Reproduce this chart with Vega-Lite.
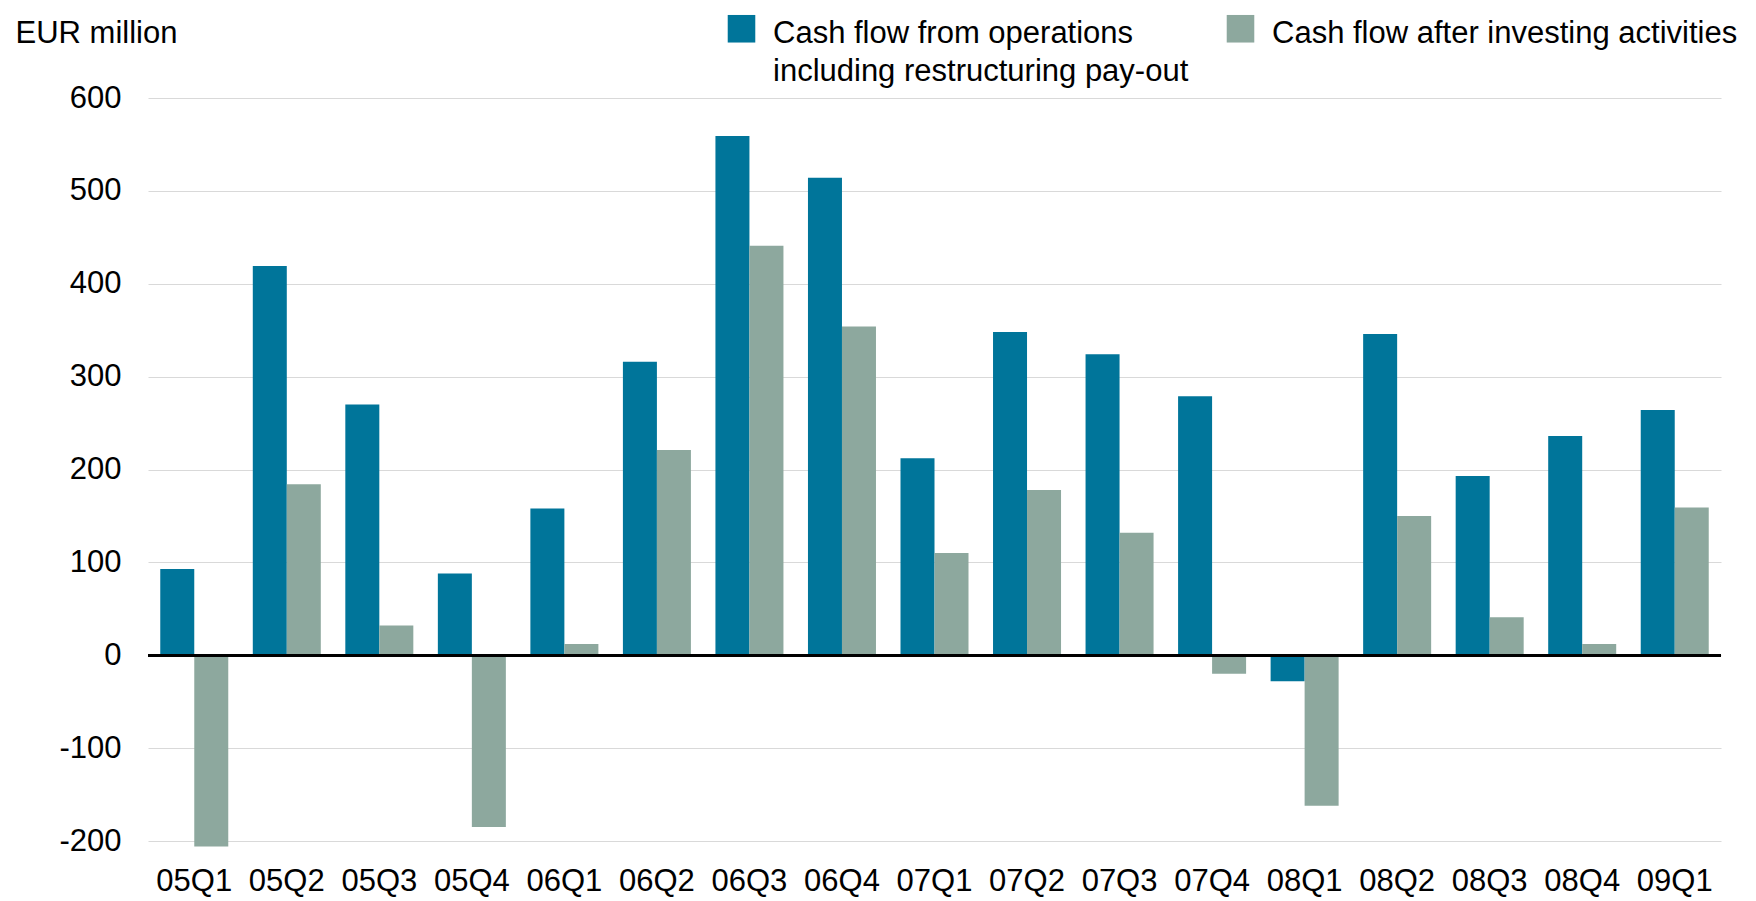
{
  "$schema": "https://vega.github.io/schema/vega-lite/v6.json",
  "width": 1573,
  "height": 743,
  "autosize": {"type": "none"},
  "padding": {"left": 148, "top": 98, "right": 35, "bottom": 60},
  "background": "white",
  "config": {
    "view": {"stroke": null},
    "font": "Liberation Sans",
    "axis": {"labelFont": "Liberation Sans", "titleFont": "Liberation Sans"},
    "legend": {"labelFont": "Liberation Sans"}
  },
  "data": {
    "values": [
      {"quarter": "05Q1", "series": "ops", "value": 93},
      {"quarter": "05Q1", "series": "inv", "value": -206},
      {"quarter": "05Q2", "series": "ops", "value": 419},
      {"quarter": "05Q2", "series": "inv", "value": 184},
      {"quarter": "05Q3", "series": "ops", "value": 270},
      {"quarter": "05Q3", "series": "inv", "value": 32},
      {"quarter": "05Q4", "series": "ops", "value": 88},
      {"quarter": "05Q4", "series": "inv", "value": -185},
      {"quarter": "06Q1", "series": "ops", "value": 158},
      {"quarter": "06Q1", "series": "inv", "value": 12},
      {"quarter": "06Q2", "series": "ops", "value": 316},
      {"quarter": "06Q2", "series": "inv", "value": 221},
      {"quarter": "06Q3", "series": "ops", "value": 559},
      {"quarter": "06Q3", "series": "inv", "value": 441},
      {"quarter": "06Q4", "series": "ops", "value": 514},
      {"quarter": "06Q4", "series": "inv", "value": 354},
      {"quarter": "07Q1", "series": "ops", "value": 212},
      {"quarter": "07Q1", "series": "inv", "value": 110},
      {"quarter": "07Q2", "series": "ops", "value": 348},
      {"quarter": "07Q2", "series": "inv", "value": 178},
      {"quarter": "07Q3", "series": "ops", "value": 324},
      {"quarter": "07Q3", "series": "inv", "value": 132},
      {"quarter": "07Q4", "series": "ops", "value": 279},
      {"quarter": "07Q4", "series": "inv", "value": -20},
      {"quarter": "08Q1", "series": "ops", "value": -28},
      {"quarter": "08Q1", "series": "inv", "value": -162},
      {"quarter": "08Q2", "series": "ops", "value": 346},
      {"quarter": "08Q2", "series": "inv", "value": 150},
      {"quarter": "08Q3", "series": "ops", "value": 193},
      {"quarter": "08Q3", "series": "inv", "value": 41},
      {"quarter": "08Q4", "series": "ops", "value": 236},
      {"quarter": "08Q4", "series": "inv", "value": 12},
      {"quarter": "09Q1", "series": "ops", "value": 264},
      {"quarter": "09Q1", "series": "inv", "value": 159}
    ]
  },
  "layer": [
    {
      "mark": {"type": "bar"},
      "encoding": {
        "x": {
          "field": "quarter",
          "type": "nominal",
          "sort": null,
          "scale": {"paddingInner": 0.265, "paddingOuter": 0.1325},
          "axis": {
            "title": null,
            "orient": "bottom",
            "domain": false,
            "ticks": false,
            "labelAngle": 0,
            "labelFontSize": 31,
            "labelColor": "black",
            "labelPadding": 25,
            "labelBaseline": "top"
          }
        },
        "xOffset": {"field": "series", "type": "nominal", "sort": ["ops", "inv"]},
        "y": {
          "field": "value",
          "type": "quantitative",
          "scale": {"domain": [-200, 600], "nice": false, "zero": false},
          "axis": {
            "values": [-200, -100, 0, 100, 200, 300, 400, 500, 600],
            "labelExpr": "'' + datum.value",
            "title": "EUR million",
            "titleAngle": 0,
            "titleAlign": "left",
            "titleBaseline": "middle",
            "titleX": -133,
            "titleY": -65,
            "titleFontSize": 31,
            "titleFontWeight": "normal",
            "titleColor": "black",
            "domain": false,
            "ticks": false,
            "labelFontSize": 31,
            "labelColor": "black",
            "labelPadding": 27,
            "gridColor": "#d9d9d9",
            "gridWidth": 1
          }
        },
        "color": {
          "field": "series",
          "type": "nominal",
          "scale": {"domain": ["ops", "inv"], "range": ["#00759A", "#8DA89E"]},
          "legend": {
            "title": null,
            "orient": "none",
            "legendX": 578,
            "legendY": -85,
            "direction": "horizontal",
            "padding": 0,
            "symbolType": "square",
            "symbolSize": 760,
            "symbolStrokeWidth": 0,
            "symbolOpacity": 1,
            "labelFontSize": 31,
            "labelColor": "black",
            "labelOffset": 16,
            "labelLimit": 800,
            "labelBaseline": "top",
            "columnPadding": 36,
            "labelExpr": "datum.label == 'ops' ? ['Cash flow from operations', 'including restructuring pay-out'] : ['Cash flow after investing activities', '']",
            "encode": {
              "labels": {"update": {"lineHeight": {"value": 38}, "dy": {"value": -10}}}
            }
          }
        }
      }
    },
    {
      "mark": {"type": "rule", "color": "black", "strokeWidth": 2},
      "encoding": {"y": {"datum": 0}}
    }
  ]
}
